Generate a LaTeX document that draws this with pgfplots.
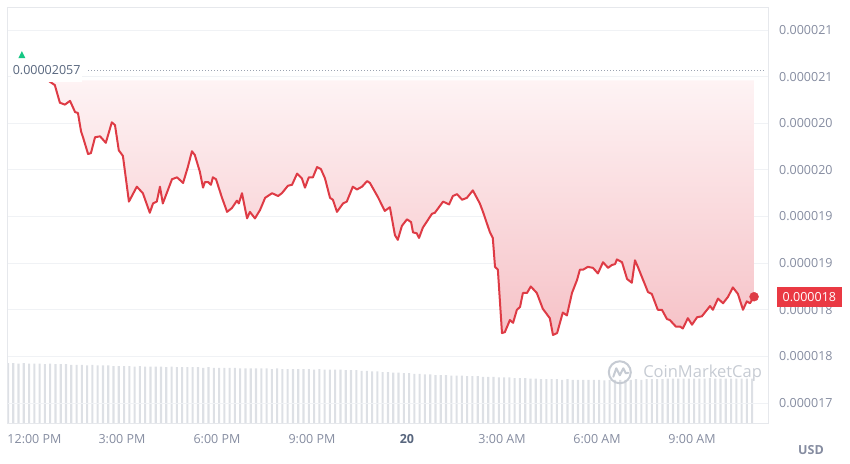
\documentclass[border=0pt]{standalone}
\usepackage{pgfplots}
\pgfplotsset{compat=1.18}
\usepackage{pgfplotstable}
\usepackage{fontspec}
\setmainfont{Open Sans}

\definecolor{cmcred}{HTML}{DE3B45}
\definecolor{cmclabel}{HTML}{EA3943}
\definecolor{filltop}{HTML}{FEF5F6}
\definecolor{fillbot}{HTML}{F6C2C7}
\definecolor{ticktext}{HTML}{858CA0}
\definecolor{darktext}{HTML}{58667E}
\definecolor{gridc}{HTML}{F0F2F5}
\definecolor{framec}{HTML}{E6E8EC}
\definecolor{volc}{HTML}{DDE0E5}
\definecolor{wmark}{HTML}{C6CBD3}
\definecolor{cmcgreen}{HTML}{16C784}

% price, x = hours after 12:00 PM, y = price in 1e-6 USD
\pgfplotstableread{
h v
-0.47 20.46
-0.16 20.57
0.41 20.53
0.66 20.46
0.88 20.41
1.04 20.22
1.20 20.20
1.36 20.24
1.52 20.12
1.61 20.11
1.71 19.91
1.77 19.85
1.93 19.67
2.02 19.68
2.15 19.85
2.31 19.86
2.49 19.79
2.68 20.01
2.78 19.98
2.90 19.71
3.03 19.65
3.22 19.16
3.47 19.32
3.66 19.25
3.88 19.04
3.98 19.14
4.10 19.16
4.20 19.32
4.29 19.14
4.58 19.40
4.74 19.42
4.93 19.36
5.08 19.53
5.21 19.70
5.30 19.66
5.46 19.48
5.56 19.31
5.62 19.37
5.72 19.37
5.81 19.34
5.87 19.42
5.97 19.40
6.16 19.20
6.32 19.05
6.47 19.09
6.63 19.17
6.69 19.14
6.79 19.25
6.95 18.98
7.04 19.05
7.20 18.98
7.36 19.07
7.52 19.20
7.74 19.25
7.93 19.22
8.05 19.25
8.24 19.33
8.37 19.34
8.53 19.46
8.68 19.41
8.78 19.31
8.90 19.42
9.03 19.42
9.16 19.53
9.28 19.51
9.41 19.41
9.57 19.20
9.66 19.18
9.79 19.05
9.98 19.14
10.10 19.16
10.29 19.32
10.42 19.29
10.58 19.32
10.74 19.38
10.83 19.36
11.08 19.21
11.30 19.06
11.46 19.10
11.62 18.80
11.71 18.75
11.84 18.90
12.00 18.97
12.13 18.94
12.19 18.83
12.31 18.82
12.38 18.77
12.50 18.88
12.79 19.03
12.88 19.04
13.14 19.16
13.33 19.13
13.45 19.22
13.58 19.24
13.74 19.18
13.89 19.20
14.08 19.28
14.30 19.14
14.40 19.05
14.62 18.83
14.71 18.77
14.78 18.46
14.87 18.43
15.00 17.75
15.09 17.76
15.25 17.89
15.35 17.86
15.47 18.00
15.57 18.03
15.66 18.18
15.79 18.18
15.91 18.25
16.10 18.18
16.29 18.01
16.51 17.91
16.61 17.73
16.74 17.75
16.92 17.97
17.05 17.94
17.21 18.18
17.37 18.32
17.46 18.43
17.56 18.43
17.71 18.46
17.87 18.45
18.03 18.39
18.19 18.51
18.35 18.45
18.47 18.48
18.57 18.49
18.63 18.54
18.79 18.51
18.95 18.33
19.10 18.29
19.20 18.53
19.29 18.46
19.42 18.35
19.61 18.19
19.73 18.17
19.92 18.00
20.05 18.00
20.21 17.90
20.30 17.89
20.49 17.82
20.62 17.82
20.71 17.80
20.87 17.91
21.00 17.84
21.16 17.92
21.31 17.93
21.57 18.04
21.66 18.00
21.82 18.12
21.98 18.07
22.14 18.14
22.29 18.24
22.45 18.17
22.61 18.00
22.73 18.09
22.83 18.07
22.96 18.14
}\price

% volume bars, one every 10 minutes, relative height
\pgfplotstableread[row sep=\\]{
v\\
1.00\\ 1.00\\ 0.99\\ 1.00\\ 0.99\\ 0.99\\ 0.99\\ 0.98\\ 0.99\\ 0.98\\ 0.98\\
0.98\\ 0.97\\ 0.97\\ 0.97\\ 0.96\\ 0.97\\ 0.96\\ 0.96\\
0.96\\ 0.95\\ 0.95\\ 0.95\\ 0.95\\ 0.94\\ 0.95\\ 0.94\\ 0.94\\ 0.94\\ 0.94\\ 0.93\\ 0.94\\
0.93\\ 0.93\\ 0.93\\ 0.93\\ 0.93\\ 0.92\\ 0.93\\ 0.92\\ 0.92\\ 0.92\\ 0.92\\ 0.92\\
0.91\\ 0.91\\ 0.91\\ 0.91\\ 0.91\\ 0.91\\ 0.90\\ 0.91\\ 0.90\\ 0.90\\ 0.90\\ 0.90\\
0.90\\ 0.90\\ 0.89\\ 0.90\\ 0.89\\ 0.89\\ 0.89\\
0.89\\ 0.88\\ 0.88\\ 0.88\\ 0.87\\ 0.87\\ 0.86\\ 0.86\\ 0.85\\ 0.85\\ 0.84\\ 0.84\\ 0.83\\ 0.83\\
0.82\\ 0.82\\ 0.81\\ 0.81\\ 0.80\\ 0.80\\ 0.80\\ 0.79\\ 0.79\\ 0.79\\
0.78\\ 0.78\\ 0.78\\ 0.77\\ 0.77\\ 0.77\\ 0.76\\ 0.76\\ 0.76\\ 0.75\\ 0.75\\ 0.75\\ 0.74\\
0.74\\ 0.73\\ 0.73\\ 0.73\\ 0.73\\ 0.72\\ 0.73\\ 0.72\\ 0.72\\ 0.72\\ 0.72\\ 0.72\\
0.72\\ 0.71\\ 0.72\\ 0.72\\ 0.72\\ 0.72\\ 0.72\\ 0.73\\ 0.72\\ 0.73\\ 0.73\\ 0.73\\
0.73\\ 0.74\\ 0.74\\ 0.74\\ 0.74\\ 0.74\\ 0.74\\ 0.74\\ 0.74\\ 0.75\\ 0.74\\ 0.74\\
0.74\\ 0.74\\ 0.74\\ 0.74\\ 0.74\\ 0.74\\
}\volume

\begin{document}
\begin{tikzpicture}[x=1pt,y=1pt]
\path[use as bounding box] (0,0) rectangle (850,463);

% volume underlay
\begin{axis}[
    at={(7pt,40pt)}, anchor=south west,
    scale only axis, width=761pt, height=415pt,
    xmin=-0.63, xmax=23.40, ymin=0, ymax=6.917,
    hide axis]
  \addplot[ybar, bar width=2.1pt, fill=volc, draw=none]
    table[x expr={-0.60+\coordindex/6}, y=v] {\volume};
\end{axis}

% price
\begin{axis}[
    at={(7pt,40pt)}, anchor=south west,
    scale only axis, width=761pt, height=415pt,
    xmin=-0.63, xmax=23.40, ymin=16.786, ymax=21.236,
    clip=false,
    axis line style={draw=framec, line width=1pt},
    ymajorgrids, major grid style={draw=gridc, line width=1pt},
    major tick length=0pt,
    ytick={17,17.5,...,21},
    yticklabels={0.000017,0.000018,0.000018,0.000019,0.000019,0.000020,0.000020,0.000021,0.000021},
    yticklabel pos=right,
    yticklabel style={anchor=west, inner sep=0pt, xshift=11pt,
      text=ticktext, font=\fontsize{12.5pt}{14pt}\selectfont},
    xtick={0,3,...,21},
    xticklabels={\hspace{15pt}12:00 PM, 3:00 PM, 6:00 PM, 9:00 PM,
      \textbf{\color{darktext}20}, 3:00 AM, 6:00 AM, 9:00 AM},
    xticklabel style={anchor=north, inner sep=0pt, yshift=-11pt,
      text=ticktext, font=\fontsize{12.5pt}{14pt}\selectfont},
  ]
  % shaded area between the opening price and the line
  \addplot[draw=none, top color=filltop, bottom color=fillbot]
    table[x=h, y=v] {\price} |- (axis cs:-0.47,20.46) -- cycle;
  \addplot[cmcred, line width=2pt, line join=round, no markers]
    table[x=h, y=v] {\price};
  \addplot[only marks, mark=*, mark size=4.5pt, cmcred]
    coordinates {(22.96,18.14)};

  % high marker
  \draw[darktext!60, line width=1pt, dash pattern=on 1pt off 2pt]
    (axis cs:1.93,20.57) -- (axis cs:23.30,20.57);
  \node[anchor=west, fill=white, inner xsep=1.5pt, inner ysep=7.5pt,
    text=darktext, font=\fontsize{12.5pt}{14pt}\selectfont]
    at (axis cs:-0.50,20.57) {0.00002057};
  \fill[cmcgreen] (axis cs:-0.16,20.57) ++(-3.5pt,12pt) -- ++(7pt,0pt)
    -- ++(-3.5pt,7pt) -- cycle;

  % current price label
  \node[anchor=west, xshift=9pt, fill=cmclabel, text=white,
    minimum height=20pt, inner xsep=5.5pt, inner ysep=0pt,
    font=\fontsize{12.5pt}{14pt}\selectfont]
    at (axis cs:23.40,18.14) {0.000018};

  % watermark
  \draw[wmark, line width=2pt] (axis cs:18.72,17.33) circle[radius=11pt];
  \draw[wmark, line width=2pt, line join=round, line cap=round]
    (axis cs:18.72,17.33) ++(-6.5pt,-4.5pt) -- ++(3pt,8.5pt) -- ++(3.5pt,-7pt)
    -- ++(3.5pt,7pt) -- ++(2.5pt,-5pt) -- ++(2.5pt,0.5pt);
  \node[anchor=west, text=wmark, font=\fontsize{16.5pt}{19pt}\selectfont]
    at (axis cs:19.35,17.32) {CoinMarketCap};
\end{axis}

\node[text=ticktext, font=\bfseries\fontsize{12.5pt}{14pt}\selectfont]
  at (811,13) {USD};
\end{tikzpicture}
\end{document}
